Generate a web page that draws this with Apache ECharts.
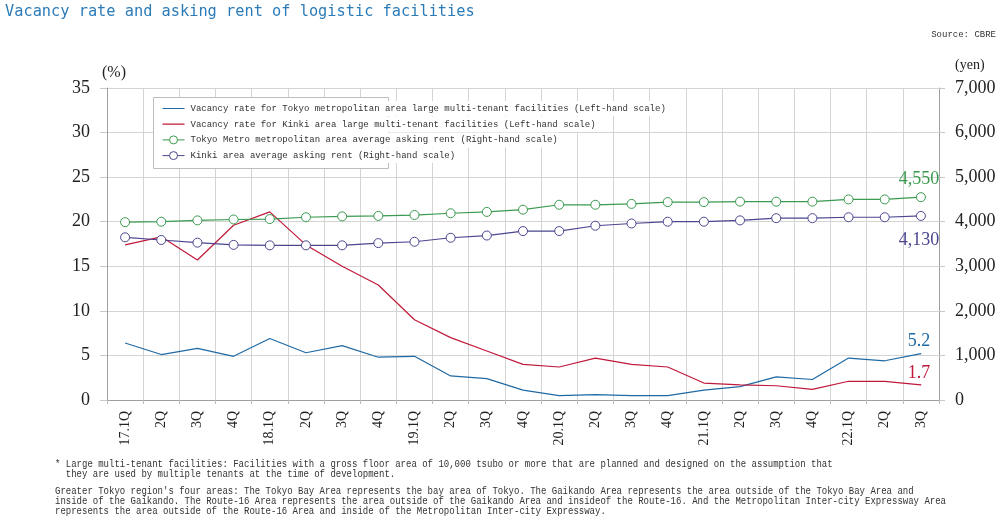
<!DOCTYPE html>
<html><head><meta charset="utf-8">
<script src="https://cdn.jsdelivr.net/npm/echarts@6/dist/echarts.min.js"></script>
<style>html,body{margin:0;padding:0;background:#fff}#c{width:1000px;height:525px}</style>
</head><body><div id="c"></div>
<script>
const categories = ['17.1Q','2Q','3Q','4Q','18.1Q','2Q','3Q','4Q','19.1Q','2Q','3Q','4Q','20.1Q','2Q','3Q','4Q','21.1Q','2Q','3Q','4Q','22.1Q','2Q','3Q'];
const tokyoVacancy = [6.4,5.1,5.8,4.9,6.9,5.3,6.1,4.8,4.9,2.7,2.4,1.1,0.5,0.6,0.5,0.5,1.1,1.5,2.6,2.3,4.7,4.4,5.2];
const kinkiVacancy = [17.4,18.3,15.7,19.6,21.1,17.4,15.0,12.9,9.0,7.0,5.5,4.0,3.7,4.7,4.0,3.7,1.9,1.7,1.6,1.2,2.1,2.1,1.7];
const tokyoRent = [3990,4000,4030,4050,4060,4100,4120,4130,4150,4190,4220,4270,4380,4380,4400,4440,4440,4450,4450,4450,4500,4500,4550];
const kinkiRent = [3650,3590,3530,3480,3470,3470,3470,3520,3550,3640,3690,3790,3790,3910,3960,4000,4000,4030,4080,4080,4100,4100,4130];
const seriesNames = [
  'Vacancy rate for Tokyo metropolitan area large multi-tenant facilities (Left-hand scale)',
  'Vacancy rate for Kinki area large multi-tenant facilities (Left-hand scale)',
  'Tokyo Metro metropolitan area average asking rent (Right-hand scale)',
  'Kinki area average asking rent (Right-hand scale)'
];
const titleText = 'Vacancy rate and asking rent of logistic facilities';
const sourceText = 'Source: CBRE';
const footnotes = [
  "* Large multi-tenant facilities: Facilities with a gross floor area of 10,000 tsubo or more that are planned and designed on the assumption that",
  "  they are used by multiple tenants at the time of development.",
  "Greater Tokyo region's four areas: The Tokyo Bay Area represents the bay area of Tokyo. The Gaikando Area represents the area outside of the Tokyo Bay Area and",
  "inside of the Gaikando. The Route-16 Area represents the area outside of the Gaikando Area and insideof the Route-16. And the Metropolitan Inter-city Expressway Area",
  "represents the area outside of the Route-16 Area and inside of the Metropolitan Inter-city Expressway."
];
const colors = ['#1f6aa5', '#c0183a', '#3a9a4f', '#4b4690'];

const serif = 'Liberation Serif';
const mono = 'Liberation Mono';
const fmt = v => Number(v).toLocaleString('en-US');
// thin horizontal line icon (anchors keep a 22x10 bounding box)
const lineIcon = 'path://M0,0L0.01,0L0.01,0.01Z M0,4.4L22,4.4L22,5.6L0,5.6Z M0,10L0.01,10L0.01,9.99Z';

function withEndLabel(arr, color, position, distance, isRent) {
  return arr.map((v, i) => {
    if (i !== arr.length - 1) return v;
    const item = {
      value: v,
      label: {
        show: true, position: position, distance: distance, offset: [-2, 0],
        color: color, fontFamily: serif, fontSize: 18,
        formatter: p => isRent ? fmt(p.value) : Number(p.value).toFixed(1)
      }
    };
    if (!isRent) {
      item.symbol = 'circle';
      item.symbolSize = 1;
      item.itemStyle = {color: color};
    }
    return item;
  });
}

const chart = echarts.init(document.getElementById('c'), null, {renderer: 'canvas'});
const footGraphics = footnotes.map((t, i) => ({
  type: 'text', x: 55, y: [464, 474, 491, 501, 511][i], scaleX: 0.857,
  style: {text: t, fontFamily: mono, fontSize: 10.5, fill: '#333', verticalAlign: 'middle'}
}));

chart.setOption({
  animation: false,
  backgroundColor: '#fff',
  grid: {left: 107, right: 61, top: 88, bottom: 125, containLabel: false},
  legend: {
    orient: 'vertical', left: 162, top: 101, padding: 0,
    itemWidth: 22, itemHeight: 10, itemGap: 0.7,
    itemStyle: {borderWidth: 1},
    lineStyle: {width: 1},
    textStyle: {fontFamily: mono, fontSize: 9, color: '#333', lineHeight: 11,
      backgroundColor: '#fff', padding: [2, 1, 2, 1]},
    data: [
      {name: seriesNames[0], icon: lineIcon},
      {name: seriesNames[1], icon: lineIcon},
      {name: seriesNames[2]},
      {name: seriesNames[3]}
    ]
  },
  xAxis: {
    type: 'category', data: categories, boundaryGap: true,
    axisLine: {lineStyle: {color: '#a0a0a0'}},
    axisTick: {show: true, length: 4, lineStyle: {color: '#bbb'}},
    splitLine: {show: true, lineStyle: {color: '#d4d4d4'}},
    axisLabel: {interval: 0, rotate: 90, margin: 11, fontFamily: serif, fontSize: 14, color: '#222'}
  },
  yAxis: [{
    type: 'value', min: 0, max: 35, interval: 5,
    axisLine: {show: true, lineStyle: {color: '#a0a0a0'}},
    axisTick: {show: true, length: 7, lineStyle: {color: '#c8c8c8'}},
    splitLine: {show: true, lineStyle: {color: '#d4d4d4'}},
    axisLabel: {margin: 17, fontFamily: serif, fontSize: 18, color: '#222'}
  }, {
    type: 'value', min: 0, max: 7000, interval: 1000,
    axisLine: {show: true, lineStyle: {color: '#a0a0a0'}},
    axisTick: {show: true, length: 6, lineStyle: {color: '#c8c8c8'}},
    splitLine: {show: false},
    axisLabel: {margin: 16, fontFamily: serif, fontSize: 18, color: '#222', formatter: v => fmt(v)}
  }],
  series: [{
    name: seriesNames[0], type: 'line', yAxisIndex: 0, symbol: 'none',
    lineStyle: {color: colors[0], width: 1.2}, itemStyle: {color: colors[0]},
    data: withEndLabel(tokyoVacancy, colors[0], 'top', 3, false), z: 5
  }, {
    name: seriesNames[1], type: 'line', yAxisIndex: 0, symbol: 'none',
    lineStyle: {color: colors[1], width: 1.2}, itemStyle: {color: colors[1]},
    data: withEndLabel(kinkiVacancy, colors[1], 'top', 2, false), z: 5
  }, {
    name: seriesNames[2], type: 'line', yAxisIndex: 1, symbol: 'circle', symbolSize: 9,
    lineStyle: {color: colors[2], width: 1.2},
    itemStyle: {color: '#fff', borderColor: colors[2], borderWidth: 1},
    data: withEndLabel(tokyoRent, colors[2], 'top', 3.5, true), z: 5
  }, {
    name: seriesNames[3], type: 'line', yAxisIndex: 1, symbol: 'circle', symbolSize: 9,
    lineStyle: {color: colors[3], width: 1.2},
    itemStyle: {color: '#fff', borderColor: colors[3], borderWidth: 1},
    data: withEndLabel(kinkiRent, colors[3], 'bottom', 10, true), z: 5
  }],
  graphic: [
    {type: 'text', x: 5, y: 12, style: {text: titleText, fontFamily: 'DejaVu Sans Mono', fontSize: 15.3, fill: '#2b7bb9', verticalAlign: 'middle'}},
    {type: 'text', x: 996, y: 35, style: {text: sourceText, fontFamily: mono, fontSize: 9, fill: '#333', align: 'right', verticalAlign: 'middle'}},
    {type: 'text', x: 102, y: 73, style: {text: '(%)', fontFamily: serif, fontSize: 16, fill: '#222', verticalAlign: 'middle'}},
    {type: 'text', x: 955, y: 65, style: {text: '(yen)', fontFamily: serif, fontSize: 14, fill: '#222', verticalAlign: 'middle'}},
    {type: 'rect', z: 3, shape: {x: 153.5, y: 97.5, width: 235, height: 71}, style: {fill: '#fff', stroke: '#bdbdbd', lineWidth: 1}}
  ].concat(footGraphics)
});
</script></body></html>
